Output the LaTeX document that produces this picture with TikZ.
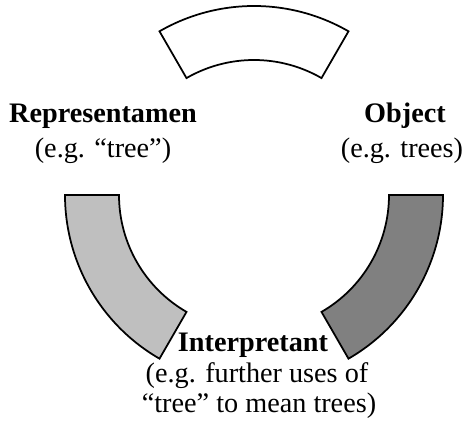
\documentclass[tikz,border=0pt]{standalone}
\usepackage{fontspec}
\setmainfont{Liberation Serif}
\usepackage{tikz}
\definecolor{lightgrey}{gray}{0.75}
\definecolor{darkgrey}{gray}{0.5}
\usetikzlibrary{positioning}

\begin{document}
\begin{tikzpicture}[x=0.457pt,y=0.457pt,line join=miter]
	\tikzset{segment/.style={draw=black,line width=0.8pt},
		word/.style={anchor=base,inner sep=0pt,font=\fontsize{12.9}{15}\selectfont}}
	\useasboundingbox (0,0) rectangle (466,427);
	\begin{scope}[shift={(254,232)}]
	\draw [segment,fill=white] (60:189) arc[start angle=60,end angle=120,radius=189] -- (120:135) arc[start angle=120,end angle=60,radius=135] -- cycle;
	\draw [segment,fill=lightgrey] (180:189) arc[start angle=180,end angle=240,radius=189] -- (240:135) arc[start angle=240,end angle=180,radius=135] -- cycle;
	\draw [segment,fill=darkgrey] (300:189) arc[start angle=300,end angle=360,radius=189] -- (0:135) arc[start angle=360,end angle=300,radius=135] -- cycle;
	\end{scope}
	\node [word] (rep) at (103,304) {\textbf{Representamen}};
	\node [word] (repeg) at (103,269) {(e.g. “tree”)};
	\node [word] (obj) at (405,304) {\textbf{Object}};
	\node [word] (objeg) at (402,269) {(e.g. trees)};
	\node [word] (int) at (253,75) {\textbf{Interpretant}};
	\node [word] (integ) at (257,44) {(e.g. further uses of};
	\node [word] (integ2) at (259,14) {“tree” to mean trees)};
\end{tikzpicture}
\end{document}
